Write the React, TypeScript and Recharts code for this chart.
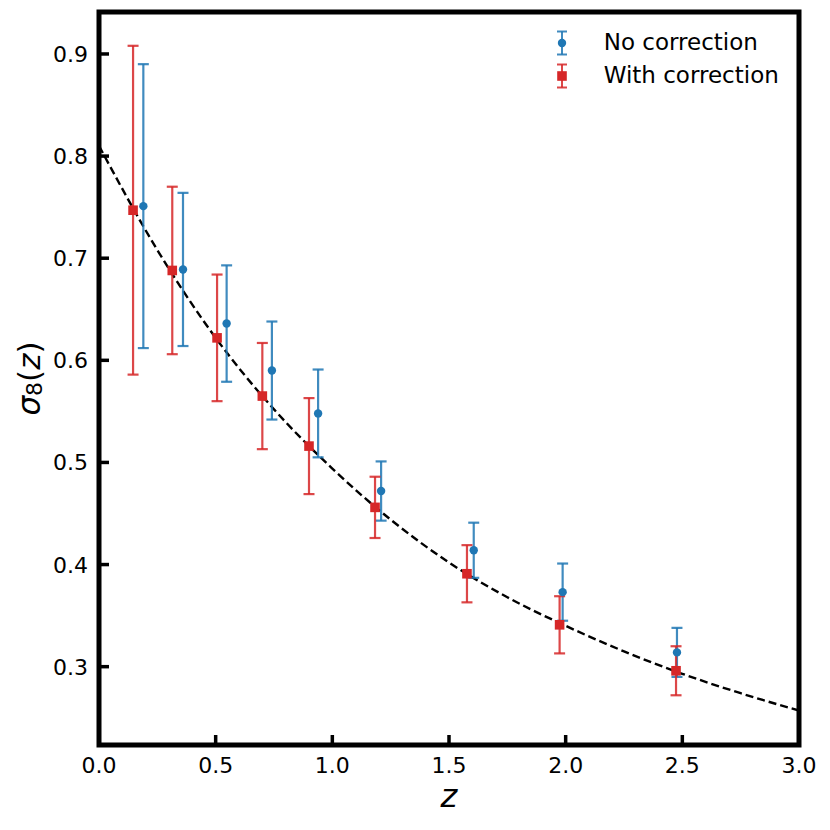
import * as React from "react";
import {
  ComposedChart,
  Line,
  Scatter,
  ErrorBar,
  XAxis,
  YAxis,
  ReferenceArea,
  Legend,
} from "recharts";

// values
const zNoCorr = [0.19, 0.36, 0.547, 0.741, 0.939, 1.209, 1.606, 1.987, 2.477];
const sNoCorr = [0.751, 0.689, 0.636, 0.59, 0.548, 0.472, 0.414, 0.373, 0.314];
const eNoCorr = [0.139, 0.075, 0.057, 0.048, 0.043, 0.029, 0.027, 0.028, 0.024];

const zWithCorr = [0.146, 0.314, 0.506, 0.7, 0.9, 1.183, 1.577, 1.974, 2.473];
const sWithCorr = [0.747, 0.688, 0.622, 0.565, 0.516, 0.456, 0.391, 0.341, 0.296];
const eWithCorr = [0.161, 0.082, 0.062, 0.052, 0.047, 0.03, 0.028, 0.028, 0.024];

// fiducial sigma_8(z) curve, sampled off the dashed line
const zCurve = [0, 0.25, 0.5, 0.75, 1.0, 1.25, 1.5, 1.75, 2.0, 2.25, 2.5, 2.75, 3.0];
const sCurve = [0.81, 0.708, 0.622, 0.552, 0.494, 0.444, 0.402, 0.368, 0.34, 0.315, 0.293, 0.274, 0.257];

const xTicks = [0, 0.5, 1.0, 1.5, 2.0, 2.5, 3.0];
const yTicks = [0.3, 0.4, 0.5, 0.6, 0.7, 0.8, 0.9];
const X_MIN = 0;
const X_MAX = 3;
const Y_MIN = 0.2233;
const Y_MAX = 0.9411;

const BLUE = "#1f77b4";
const RED = "#d62728";
const FONT = "DejaVu Sans";

const noCorrData = zNoCorr.map((z, i) => ({ z, s: sNoCorr[i], err: eNoCorr[i] }));
const withCorrData = zWithCorr.map((z, i) => ({ z, s: sWithCorr[i], err: eWithCorr[i] }));
const curveData = zCurve.map((z, i) => ({ z, s: sCurve[i] }));

const TICK_LEN = 10;
const TICK_W = 3.5;
const TICK_FONT = 22;

const BottomTick = ({ x, y, payload }: any) => (
  <g>
    <line x1={x} x2={x} y1={y} y2={y - TICK_LEN} stroke="#000" strokeWidth={TICK_W} />
    <text x={x} y={y + 28} textAnchor="middle" fontFamily={FONT} fontSize={TICK_FONT} fill="#000">
      {Number(payload.value).toFixed(1)}
    </text>
  </g>
);

const LeftTick = ({ x, y, payload }: any) => (
  <g>
    <line x1={x} x2={x + TICK_LEN} y1={y} y2={y} stroke="#000" strokeWidth={TICK_W} />
    <text x={x - 11} y={y + 8} textAnchor="end" fontFamily={FONT} fontSize={TICK_FONT} fill="#000">
      {Number(payload.value).toFixed(1)}
    </text>
  </g>
);

const TopTick = ({ x, y }: any) => (
  <line x1={x} x2={x} y1={y} y2={y + TICK_LEN} stroke="#000" strokeWidth={TICK_W} />
);

const RightTick = ({ x, y }: any) => (
  <line x1={x} x2={x - TICK_LEN} y1={y} y2={y} stroke="#000" strokeWidth={TICK_W} />
);

const Dot = ({ cx, cy }: any) => <circle cx={cx} cy={cy} r={4.2} fill={BLUE} />;
const Square = ({ cx, cy }: any) => (
  <rect x={cx - 4.8} y={cy - 4.8} width={9.6} height={9.6} fill={RED} />
);

const XLabel = ({ viewBox }: any) => (
  <text
    x={viewBox.x + viewBox.width / 2}
    y={viewBox.y + 62}
    textAnchor="middle"
    fontFamily={FONT}
    fontStyle="italic"
    fontSize={32}
    fill="#000"
  >
    z
  </text>
);

const YLabel = ({ viewBox }: any) => {
  const cx = 29;
  const cy = viewBox.y + viewBox.height / 2;
  return (
    <text
      x={cx}
      y={cy}
      transform={`rotate(-90, ${cx}, ${cy})`}
      textAnchor="middle"
      dominantBaseline="central"
      fontFamily={FONT}
      fontSize={31}
      fill="#000"
    >
      <tspan fontStyle="italic">σ</tspan>
      <tspan fontSize={22} dy={5}>8</tspan>
      <tspan dy={-5}>(</tspan>
      <tspan fontStyle="italic">z</tspan>
      <tspan>)</tspan>
    </text>
  );
};

const LegendIcon = ({ color, square }: { color: string; square: boolean }) => (
  <svg width={20} height={26} style={{ display: "block" }}>
    <line x1={10} x2={10} y1={1.5} y2={24.5} stroke={color} strokeWidth={2} strokeOpacity={0.85} />
    <line x1={5} x2={15} y1={1.5} y2={1.5} stroke={color} strokeWidth={2} strokeOpacity={0.85} />
    <line x1={5} x2={15} y1={24.5} y2={24.5} stroke={color} strokeWidth={2} strokeOpacity={0.85} />
    {square ? (
      <rect x={5.2} y={8.2} width={9.6} height={9.6} fill={color} />
    ) : (
      <circle cx={10} cy={13} r={4.2} fill={color} />
    )}
  </svg>
);

const legendItems = [
  { label: "No correction", color: BLUE, square: false },
  { label: "With correction", color: RED, square: true },
];

const renderLegend = () => (
  <div style={{ fontFamily: FONT, fontSize: 23, color: "#000" }}>
    {legendItems.map((it) => (
      <div key={it.label} style={{ display: "flex", alignItems: "center", height: 33 }}>
        <LegendIcon color={it.color} square={it.square} />
        <span style={{ marginLeft: 32, lineHeight: "33px" }}>{it.label}</span>
      </div>
    ))}
  </div>
);

export default function App() {
  return (
    <div style={{ position: "absolute", left: 0, top: 0, width: 830, height: 830, background: "#fff" }}>
      <ComposedChart width={830} height={830} margin={{ top: 12, right: 31, bottom: 0, left: 0 }}>
        <XAxis
          dataKey="z"
          type="number"
          domain={[X_MIN, X_MAX]}
          ticks={xTicks}
          interval={0}
          allowDataOverflow
          height={85}
          axisLine={false}
          tickLine={false}
          tickSize={0}
          tickMargin={0}
          tick={<BottomTick />}
          label={<XLabel />}
        />
        <XAxis
          xAxisId="top"
          orientation="top"
          type="number"
          domain={[X_MIN, X_MAX]}
          ticks={xTicks}
          interval={0}
          allowDataOverflow
          height={0}
          axisLine={false}
          tickLine={false}
          tickSize={0}
          tickMargin={0}
          tick={<TopTick />}
        />
        <YAxis
          dataKey="s"
          type="number"
          domain={[Y_MIN, Y_MAX]}
          ticks={yTicks}
          interval={0}
          allowDataOverflow
          width={99}
          axisLine={false}
          tickLine={false}
          tickSize={0}
          tickMargin={0}
          tick={<LeftTick />}
          label={<YLabel />}
        />
        <YAxis
          yAxisId="right"
          orientation="right"
          type="number"
          domain={[Y_MIN, Y_MAX]}
          ticks={yTicks}
          interval={0}
          allowDataOverflow
          width={0}
          axisLine={false}
          tickLine={false}
          tickSize={0}
          tickMargin={0}
          tick={<RightTick />}
        />
        <Line
          data={curveData}
          dataKey="s"
          type="monotone"
          dot={false}
          activeDot={false}
          stroke="#000"
          strokeWidth={2.4}
          strokeDasharray="8 4"
          isAnimationActive={false}
        />
        <Scatter data={noCorrData} dataKey="s" shape={<Dot />} isAnimationActive={false}>
          <ErrorBar dataKey="err" direction="y" width={5.5} stroke={BLUE} strokeWidth={2.2} strokeOpacity={0.85} />
        </Scatter>
        <Scatter data={withCorrData} dataKey="s" shape={<Square />} isAnimationActive={false}>
          <ErrorBar dataKey="err" direction="y" width={5.5} stroke={RED} strokeWidth={2.2} strokeOpacity={0.85} />
        </Scatter>
        <ReferenceArea
          x1={X_MIN}
          x2={X_MAX}
          y1={Y_MIN}
          y2={Y_MAX}
          fill="none"
          stroke="#000"
          strokeWidth={5}
          ifOverflow="visible"
        />
        <Legend
          layout="vertical"
          align="center"
          verticalAlign="middle"
          content={renderLegend}
          wrapperStyle={{ position: "absolute", top: 26, left: 551.7, width: 260 }}
        />
      </ComposedChart>
    </div>
  );
}
